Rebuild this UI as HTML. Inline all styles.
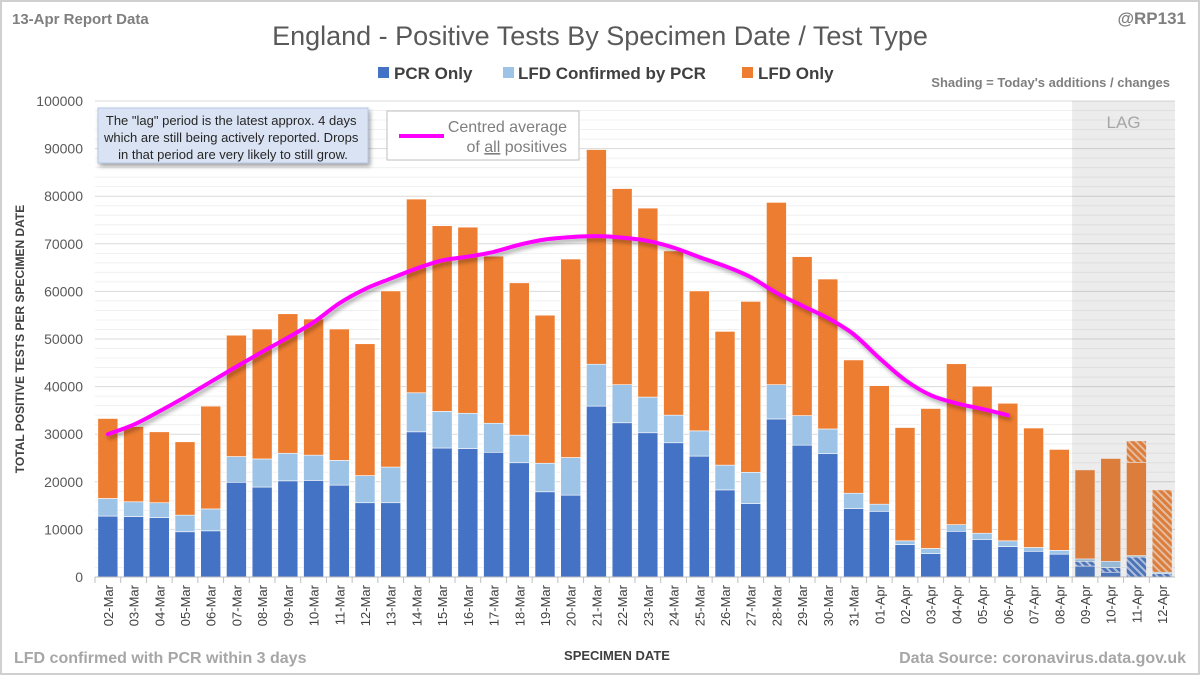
<!DOCTYPE html>
<html><head><meta charset="utf-8">
<style>
html,body{margin:0;padding:0;background:#fff;}
svg{display:block;font-family:"Liberation Sans",sans-serif;}
</style></head>
<body>
<svg id="chart" width="1200" height="675" viewBox="0 0 1200 675">
<defs>
<pattern id="hatchO" width="5" height="5" patternUnits="userSpaceOnUse" patternTransform="rotate(-45)"><rect width="5" height="5" fill="#ED7D31"/><rect width="2" height="5" fill="#f6c7a5"/></pattern>
<pattern id="hatchB" width="5" height="5" patternUnits="userSpaceOnUse" patternTransform="rotate(-45)"><rect width="5" height="5" fill="#4472C4"/><rect width="2" height="5" fill="#b8c9ea"/></pattern>
<filter id="sh" x="-10%" y="-10%" width="120%" height="130%"><feDropShadow dx="2" dy="3" stdDeviation="2" flood-color="#000" flood-opacity="0.35"/></filter>
</defs>
<rect x="1" y="1" width="1198" height="673" fill="#fff" stroke="#d0d0d0" stroke-width="2"/>
<text x="12" y="24" font-size="15" font-weight="bold" fill="#7f7f7f">13-Apr Report Data</text>
<text x="600" y="45" font-size="27" fill="#595959" text-anchor="middle">England - Positive Tests By Specimen Date / Test Type</text>
<text x="1186" y="24" font-size="17" font-weight="bold" fill="#7f7f7f" text-anchor="end">@RP131</text>
<g>
<rect x="378" y="67" width="11" height="11" fill="#4472C4"/>
<text x="394" y="79" font-size="17" font-weight="bold" fill="#404040">PCR Only</text>
<rect x="503" y="67" width="11" height="11" fill="#9DC3E6"/>
<text x="518" y="79" font-size="17" font-weight="bold" fill="#404040">LFD Confirmed by PCR</text>
<rect x="742" y="67" width="11" height="11" fill="#ED7D31"/>
<text x="758" y="79" font-size="17" font-weight="bold" fill="#404040">LFD Only</text>
</g>
<text x="1170" y="87" font-size="13" font-weight="bold" fill="#7f7f7f" text-anchor="end">Shading = Today's additions / changes</text>
<g id="plot"></g>
<g filter="url(#sh)">
<rect x="98" y="108" width="270" height="55" fill="#dae3f3" stroke="#b4c7e7"/>
</g>
<text font-size="13" fill="#262626" text-anchor="middle">
<tspan x="233" y="125">The "lag" period is the latest approx. 4 days</tspan>
<tspan x="233" y="142">which are still being actively reported. Drops</tspan>
<tspan x="233" y="159">in that period are very likely to still grow.</tspan></text>
<g>
<rect x="387" y="111" width="192" height="49" fill="#fff" stroke="#bfbfbf"/>
<line x1="399" y1="136" x2="444" y2="136" stroke="#FF00FF" stroke-width="4"/>
<text font-size="16" fill="#7f7f7f" text-anchor="end"><tspan x="567" y="132">Centred average</tspan><tspan x="567" y="152">of <tspan text-decoration="underline">all</tspan> positives</tspan></text>
</g>
<text transform="translate(24,339) rotate(-90)" font-size="12" font-weight="bold" fill="#404040" text-anchor="middle">TOTAL POSITIVE TESTS PER SPECIMEN DATE</text>
<text x="617" y="660" font-size="13" font-weight="bold" fill="#404040" text-anchor="middle">SPECIMEN DATE</text>
<text x="14" y="663" font-size="16" font-weight="bold" fill="#a6a6a6">LFD confirmed with PCR within 3 days</text>
<text x="1186" y="663" font-size="16" font-weight="bold" fill="#a6a6a6" text-anchor="end">Data Source: coronavirus.data.gov.uk</text>
</svg>
<script>
const categories=["02-Mar","03-Mar","04-Mar","05-Mar","06-Mar","07-Mar","08-Mar","09-Mar","10-Mar","11-Mar","12-Mar","13-Mar","14-Mar","15-Mar","16-Mar","17-Mar","18-Mar","19-Mar","20-Mar","21-Mar","22-Mar","23-Mar","24-Mar","25-Mar","26-Mar","27-Mar","28-Mar","29-Mar","30-Mar","31-Mar","01-Apr","02-Apr","03-Apr","04-Apr","05-Apr","06-Apr","07-Apr","08-Apr","09-Apr","10-Apr","11-Apr","12-Apr"];
const pcrOnly=[12800,12700,12500,9500,9700,19900,18900,20200,20300,19300,15600,15600,30500,27100,27000,26200,24000,17900,17200,35900,32400,30300,28200,25400,18300,15400,33200,27700,25900,14400,13800,6800,4900,9600,7900,6400,5400,4800,3300,2000,4200,700];
const lfdConfirmed=[3700,3100,3100,3500,4600,5400,5900,5800,5300,5200,5700,7500,8200,7700,7400,6100,5800,6000,7900,8800,8000,7500,5800,5300,5200,6600,7200,6200,5200,3200,1500,800,1100,1400,1300,1200,800,800,500,1300,300,300];
const lfdOnly=[16800,15800,14900,15400,21600,25500,27300,29300,28600,27600,27700,37000,40700,39000,39100,35100,32000,31100,41700,45100,41200,39700,34500,29400,28100,35900,38300,33400,31500,28000,24900,23800,29400,33800,30900,28900,25100,21200,18700,21600,24100,17300];
const lfdOnlyAdded=[0,0,0,0,0,0,0,0,0,0,0,0,0,0,0,0,0,0,0,0,0,0,0,0,0,0,0,0,0,0,0,0,0,0,0,0,0,0,0,0,4500,17300];
const pcrAdded=[0,0,0,0,0,0,0,0,0,0,0,0,0,0,0,0,0,0,0,0,0,0,0,0,0,0,0,0,0,0,0,0,0,0,0,0,0,0,1000,1000,4200,700];
const avgValues=[30000,32000,34800,37800,41000,44200,47300,50300,53500,57500,60500,62700,64800,66500,67300,68300,69800,70900,71400,71600,71300,70600,69200,67200,65300,63000,59700,57000,54400,51000,46000,41400,38200,36500,35300,34000];
const yTicks=[0,10000,20000,30000,40000,50000,60000,70000,80000,90000,100000];
const lagCount=4;

const NS="http://www.w3.org/2000/svg";
const X0=95,X1=1175,Y0=577,Y1=101,YMAX=100000;
const band=(X1-X0)/categories.length;
const bw=20;
const xC=i=>X0+band*(i+0.5);
const yS=v=>Y0-(v/YMAX)*(Y0-Y1);
const plot=document.getElementById('plot');
function mk(tag,attrs,parent){const e=document.createElementNS(NS,tag);for(const k in attrs)e.setAttribute(k,attrs[k]);(parent||plot).appendChild(e);return e;}

for(let v=2000;v<=YMAX;v+=2000){
  if(v%10000===0)continue;
  const g=mk('line',{x1:X0,x2:X1,y1:yS(v),y2:yS(v),stroke:'#f0f0f0','stroke-width':1});
  
  
}
yTicks.forEach(v=>{
  if(v>0){
    const g=mk('line',{x1:X0,x2:X1,y1:yS(v),y2:yS(v),stroke:'#d9d9d9','stroke-width':1});
    
    
  }
  const t=mk('text',{x:83,y:yS(v)+5,'font-size':14,fill:'#595959','text-anchor':'end'});
  t.textContent=v;
  
  
});

categories.forEach((c,i)=>{
  const x=xC(i)-bw/2;
  let base=0;
  const segs=[[pcrOnly[i]-pcrAdded[i],'#4472C4','bar-pcr-only'],[pcrAdded[i],'url(#hatchB)','bar-pcr-added'],[lfdConfirmed[i],'#9DC3E6','bar-lfd-confirmed'],[lfdOnly[i]-lfdOnlyAdded[i],'#ED7D31','bar-lfd-only'],[lfdOnlyAdded[i],'url(#hatchO)','bar-lfd-added']];
  segs.forEach(([v,f,n])=>{
    if(v<=0)return;
    const r=mk('rect',{x:x,y:yS(base+v),width:bw,height:yS(base)-yS(base+v),fill:f,stroke:'#fff','stroke-width':0.6});
    
    
    base+=v;
  });
  const tk=mk('line',{x1:X0+band*i,x2:X0+band*i,y1:Y0,y2:Y0+6,stroke:'#bfbfbf'});
  
  
  const t=mk('text',{transform:`translate(${xC(i)+5},${Y0+8}) rotate(-90)`,'font-size':13,fill:'#404040','text-anchor':'end'});
  t.textContent=c;
  
  
});
const ax=mk('line',{x1:X0,x2:X1,y1:Y0,y2:Y0,stroke:'#bfbfbf'});



const lx=X0+band*(categories.length-lagCount);
const lag=mk('rect',{x:lx,y:Y1,width:X1-lx,height:Y0-Y1,fill:'#808080','fill-opacity':0.15});


const lt=mk('text',{x:(lx+X1)/2,y:128,'font-size':17,fill:'#a6a6a6','text-anchor':'middle'});
lt.textContent='LAG';



const pts=avgValues.map((v,i)=>[xC(i),yS(v)]);
let d=`M${pts[0][0]},${pts[0][1]}`;
for(let i=0;i<pts.length-1;i++){
  const p0=pts[Math.max(0,i-1)],p1=pts[i],p2=pts[i+1],p3=pts[Math.min(pts.length-1,i+2)];
  const c1=[p1[0]+(p2[0]-p0[0])/6,p1[1]+(p2[1]-p0[1])/6];
  const c2=[p2[0]-(p3[0]-p1[0])/6,p2[1]-(p3[1]-p1[1])/6];
  d+=` C${c1[0]},${c1[1]} ${c2[0]},${c2[1]} ${p2[0]},${p2[1]}`;
}
const line=mk('path',{d:d,fill:'none',stroke:'#FF00FF','stroke-width':4,'stroke-linecap':'round',filter:'url(#sh)'});


</script>
</body></html>
